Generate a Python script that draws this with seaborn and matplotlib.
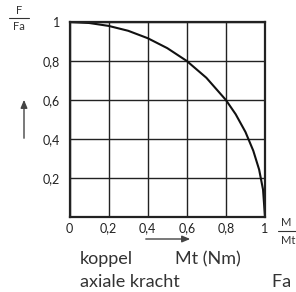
import numpy as np
import pandas as pd
import matplotlib
matplotlib.use('Agg')
import matplotlib.pyplot as plt
import seaborn as sns

# curve: relative torque M/Mt vs relative axial force F/Fa
m_ratio = [0.0, 0.1, 0.2, 0.3, 0.4, 0.5, 0.6, 0.7, 0.8, 0.85, 0.9, 0.94, 0.97, 0.99, 1.0]
f_ratio = [1.0, 0.995, 0.98, 0.955, 0.917, 0.866, 0.80, 0.714, 0.60, 0.527, 0.436, 0.34, 0.243, 0.14, 0.0]

ticks = [0, 0.2, 0.4, 0.6, 0.8, 1]
x_ticklabels = ['0', '0,2', '0,4', '0,6', '0,8', '1']
y_ticklabels = ['', '0,2', '0,4', '0,6', '0,8', '1']

df = pd.DataFrame({'M': m_ratio, 'F': f_ratio})

sns.set_theme(style="white")
plt.rcParams['font.family'] = ['Lato', 'DejaVu Sans']

W, H = 296, 292
fig = plt.figure(figsize=(W / 100, H / 100), dpi=100)
ax = fig.add_axes([69.5 / W, 1 - 217 / H, 195.5 / W, 195 / H])

sns.lineplot(data=df, x='M', y='F', ax=ax, color='#111111', linewidth=1.5)

ax.set_xlim(0, 1)
ax.set_ylim(0, 1)
ax.set_xticks(ticks)
ax.set_yticks(ticks)
ax.set_xticklabels(x_ticklabels)
ax.set_yticklabels(y_ticklabels)
ax.tick_params(axis='both', length=0, labelsize=9, colors='#222222')
ax.tick_params(axis='x', pad=4)
ax.tick_params(axis='y', pad=7)
ax.grid(True, color='#222222', linewidth=1.0)
for s in ax.spines.values():
    s.set_color('#222222')
    s.set_linewidth(1.6)
ax.set_xlabel('')
ax.set_ylabel('')


def px(x, y):
    return x / W, 1 - y / H


txt = '#333333'
# F / Fa fraction
fig.text(*px(19, 10), 'F', fontsize=8, ha='center', va='center', color=txt)
fig.text(*px(19, 26), 'Fa', fontsize=8, ha='center', va='center', color=txt)
fig.add_artist(plt.Line2D([9 / W, 29 / W], [1 - 18 / H, 1 - 18 / H], color=txt, lw=0.8))

# M / Mt fraction (cut by the image edge)
fig.text(*px(286, 223), 'M', fontsize=8, ha='center', va='center', color=txt)
fig.text(*px(288, 240), 'Mt', fontsize=8, ha='center', va='center', color=txt)
fig.add_artist(plt.Line2D([278 / W, 296 / W], [1 - 231 / H, 1 - 231 / H], color=txt, lw=0.8))

# arrows
ax.annotate('', xy=px(24, 97), xytext=px(24, 141), xycoords='figure fraction',
            arrowprops=dict(arrowstyle='-|>,head_width=0.25,head_length=0.6',
                            color='#444444', lw=1, mutation_scale=8))
ax.annotate('', xy=px(193, 239), xytext=px(143, 239), xycoords='figure fraction',
            arrowprops=dict(arrowstyle='-|>,head_width=0.25,head_length=0.6',
                            color='#444444', lw=1, mutation_scale=8))

# legend words
fig.text(*px(80, 259), 'koppel', fontsize=13, ha='left', va='center', color=txt)
fig.text(*px(175, 259), 'Mt (Nm)', fontsize=13, ha='left', va='center', color=txt)
fig.text(*px(80, 282), 'axiale kracht', fontsize=13, ha='left', va='center', color=txt)
fig.text(*px(272, 282), 'Fa (N)', fontsize=13, ha='left', va='center', color=txt)

plt.savefig('out.png', dpi=100)
